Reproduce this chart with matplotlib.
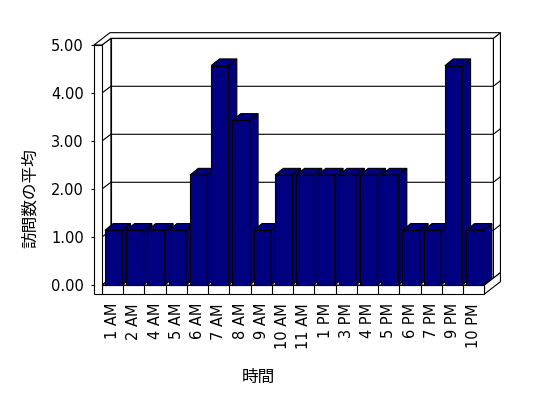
import matplotlib.pyplot as plt
from matplotlib.patches import Polygon, Rectangle

plt.rcParams['font.family'] = ['DejaVu Sans', 'Noto Sans CJK JP']

hours = ["1 AM", "2 AM", "4 AM", "5 AM", "6 AM", "7 AM", "8 AM", "9 AM", "10 AM",
         "11 AM", "1 PM", "3 PM", "4 PM", "5 PM", "6 PM", "7 PM", "9 PM", "10 PM"]
visits = [1.14, 1.14, 1.14, 1.14, 2.29, 4.57, 3.43, 1.14, 2.29,
          2.29, 2.29, 2.29, 2.29, 2.29, 1.14, 1.14, 4.57, 1.14]
yticks = [0, 1, 2, 3, 4, 5]
ylabel = "訪問数の平均"
xlabel = "時間"

n = len(hours)
ymax = yticks[-1]
navy = "#000080"

# pseudo-3D geometry, in data units
dx, dy = 0.42, 0.14      # depth of the plot area
tx, ty = 0.33, 0.117     # wall thickness going back
wall = 0.376             # side wall thickness
floor = 0.1875           # floor thickness
gap, bw = 0.14, 0.815
bdx, bdy = 0.39, 0.14

fig = plt.figure(figsize=(5.48, 3.98), dpi=100)
ax = fig.add_axes([94/548, 104/398, 390.5/548, 249/398])
ax.set_xlim(-wall, n)
ax.set_ylim(-floor, ymax)
ax.patch.set_visible(False)
for s in ax.spines.values():
    s.set_visible(False)


def face(pts, fc="white", z=1):
    ax.add_patch(Polygon(pts, closed=True, facecolor=fc, edgecolor="black",
                         linewidth=0.8, clip_on=False, zorder=z))


# walls
face([(dx, dy), (n+dx, dy), (n+dx, ymax+dy), (dx, ymax+dy)])
face([(0, 0), (dx, dy), (dx, ymax+dy), (0, ymax)])
face([(n+dx, dy), (n+dx+tx, dy+ty), (n+dx+tx, ymax+dy+ty), (n+dx, ymax+dy)])
for v in yticks[1:-1]:
    ax.plot([0, dx, n+dx, n+dx+tx], [v, v+dy, v+dy, v+dy+ty],
            color="black", lw=0.8, clip_on=False, zorder=1.5)
face([(-wall, ymax), (0, ymax), (dx, ymax+dy), (n+dx, ymax+dy),
      (n+dx+tx, ymax+dy+ty), (-wall+dx+tx, ymax+dy+ty)], z=2)

# floor
face([(0, 0), (n, 0), (n+dx, dy), (dx, dy)], z=2)
face([(n, -floor), (n, 0), (n+dx+tx, dy+ty), (n+dx+tx, -floor+dy+ty)], z=2)
ax.add_patch(Rectangle((0, -floor), n, floor, facecolor="white", edgecolor="black",
                       lw=0.8, clip_on=False, zorder=2))
ax.vlines(range(1, n), -floor, 0, color="black", lw=0.8, zorder=2.5, clip_on=False)
ax.add_patch(Rectangle((-wall, -floor), wall, ymax+floor, facecolor="white",
                       edgecolor="black", lw=0.8, clip_on=False, zorder=2))

# bars
for i, v in enumerate(visits):
    x0 = i + gap
    z = 3 + i*0.01
    face([(x0, 0), (x0+bw, 0), (x0+bw, v), (x0, v)], navy, z)
    face([(x0, v), (x0+bw, v), (x0+bw+bdx, v+bdy), (x0+bdx, v+bdy)], navy, z)
    face([(x0+bw, 0), (x0+bw+bdx, bdy), (x0+bw+bdx, v+bdy), (x0+bw, v)], navy, z)

ax.set_yticks(yticks, labels=[f"{v:.2f}" for v in yticks])
ax.tick_params(axis="y", length=2.2, width=0.8, direction="out", pad=5, labelsize=10.5)
ax.set_xticks([i + 0.5 for i in range(n)], labels=hours, rotation=90)
ax.tick_params(axis="x", length=0, pad=6.5, labelsize=10.5)

fig.text(30/548, 1 - 198/398, ylabel, rotation=90, ha="center", va="center", fontsize=12)
fig.text(258/548, 1 - 377/398, xlabel, ha="center", va="center", fontsize=12)

fig.savefig("out.png", dpi=100)
